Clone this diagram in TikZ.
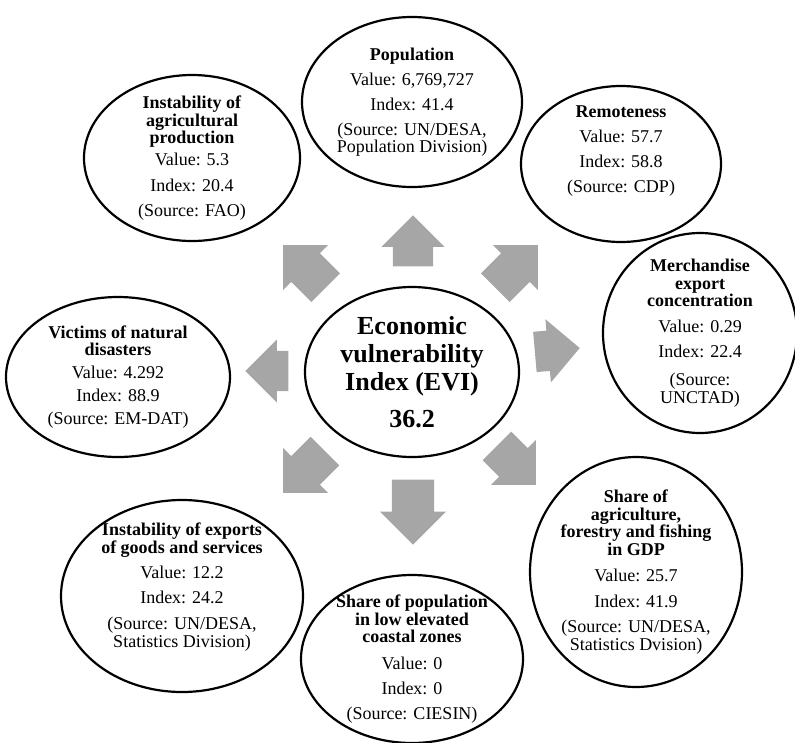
\documentclass[tikz,border=0pt]{standalone}
\usepackage{fontspec}
\setmainfont{Liberation Serif}
\usetikzlibrary{shapes.geometric,shapes.arrows}
\definecolor{arrowgray}{HTML}{A6A6A6}
\begin{document}
\begin{tikzpicture}[
  x=1pt, y=-1pt,
  factor/.style={ellipse, draw, line width=2.2pt, inner sep=-30pt, align=center,
    font=\fontsize{18}{17.5}\selectfont},
  push/.style={single arrow, fill=arrowgray, inner xsep=0pt, inner ysep=20pt,
    single arrow head extend=11.5pt, anchor=tip}
]
\useasboundingbox (0,0) rectangle (795,742);

% the index in the middle
\node[factor, minimum width=214pt, minimum height=170pt,
  font=\fontsize{26}{28}\selectfont\bfseries] (evi) at (412,372)
  {Economic\\ vulnerability\\ Index (EVI)\\[9pt] 36.2};

% the eight components
\node[factor, minimum width=220pt, minimum height=170pt] (pop) at (412,102)
  {\textbf{Population}\\[7.5pt] Value: 6,769,727\\[7.5pt] Index: 41.4\\[7.5pt]
   (Source: UN/DESA,\\ Population Division)};
\node[factor, minimum width=200pt, minimum height=156pt, text depth=30pt] (remote) at (621,164)
  {\textbf{Remoteness}\\[7.5pt] Value: 57.7\\[7.5pt] Index: 58.8\\[7.5pt] (Source: CDP)};
\node[factor, minimum width=194pt, minimum height=200pt] (merch) at (700,333)
  {\textbf{Merchandise}\\ \textbf{export}\\ \textbf{concentration}\\[8pt] Value: 0.29\\[7.5pt]
   Index: 22.4\\[11pt] (Source:\\ UNCTAD)};
\node[factor, minimum width=212pt, minimum height=230pt] (agri) at (636,572)
  {\textbf{Share of}\\ \textbf{agriculture,}\\ \textbf{forestry and fishing}\\ \textbf{in GDP}\\[9pt]
   Value: 25.7\\[8pt] Index: 41.9\\[8pt] (Source: UN/DESA,\\ Statistics Dvision)};
\node[factor, minimum width=222pt, minimum height=168pt] (coast) at (412,659)
  {\textbf{Share of population}\\ \textbf{in low elevated}\\ \textbf{coastal zones}\\[9pt] Value: 0\\[7.5pt]
   Index: 0\\[7.5pt] (Source: CIESIN)};
\node[factor, minimum width=242pt, minimum height=192pt, text depth=22pt] (exports) at (182,596)
  {\textbf{Instability of exports}\\ \textbf{of goods and services}\\[7.5pt] Value: 12.2\\[7.5pt]
   Index: 24.2\\[9pt] (Source: UN/DESA,\\ Statistics Division)};
\node[factor, minimum width=224pt, minimum height=160pt] (victims) at (118,377)
  {\textbf{Victims of natural}\\ \textbf{disasters}\\[5pt] Value: 4.292\\[5.5pt] Index: 88.9\\[6pt]
   (Source: EM-DAT)};
\node[factor, minimum width=216pt, minimum height=166pt] (instag) at (192,158)
  {\textbf{Instability of}\\ \textbf{agricultural}\\ \textbf{production}\\[4.5pt] Value: 5.3\\[8pt]
   Index: 20.4\\[7.5pt] (Source: FAO)};

% block arrows out of the middle
\node[push, rotate=90, minimum height=51pt, minimum width=63pt] (toPop) at (413,215) {};
\node[push, rotate=45, minimum height=60pt, minimum width=62pt] (toRemote) at (538,245) {};
\node[push, rotate=5, minimum height=45pt, minimum width=62pt] (toMerch) at (580,348) {};
\node[push, rotate=-45, minimum height=55pt, minimum width=62pt] (toAgri) at (536,485) {};
\node[push, rotate=-90, minimum height=65pt, minimum width=66pt] (toCoast) at (413,545) {};
\node[push, rotate=-135, minimum height=59pt, minimum width=62pt] (toExports) at (283,493) {};
\node[push, rotate=180, minimum height=43pt, minimum width=62pt] (toVictims) at (245,371) {};
\node[push, rotate=135, minimum height=60pt, minimum width=62pt] (toInstag) at (283,245) {};
\end{tikzpicture}
\end{document}
